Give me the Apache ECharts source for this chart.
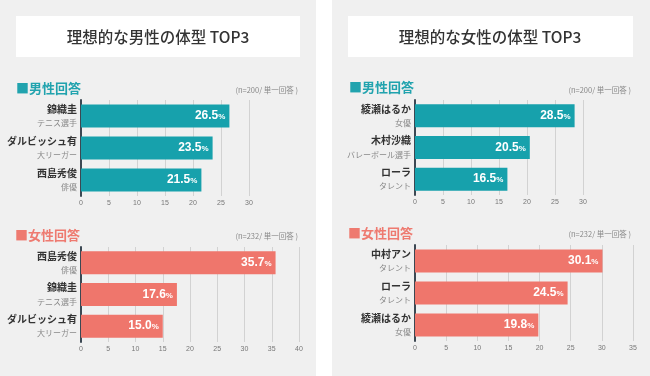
<!DOCTYPE html>
<html><head><meta charset="utf-8">
<script src="https://cdn.jsdelivr.net/npm/echarts@6/dist/echarts.min.js"></script>
<style>html,body{margin:0;padding:0;background:#fff}#c{width:650px;height:376px}</style>
</head><body><div id="c"></div>
<script>
// ---- data ----
var titleLeft = '理想的な男性の体型 TOP3';
var titleRight = '理想的な女性の体型 TOP3';
var headMale = '■男性回答';
var headFemale = '■女性回答';
var noteMale = '(n=200/ 単一回答 )';
var noteFemale = '(n=232/ 単一回答 )';

var lmNames = ['錦織圭', 'ダルビッシュ有', '西島秀俊'];
var lmSubs = ['テニス選手', '大リーガー', '俳優'];
var lmValues = [26.5, 23.5, 21.5];

var lfNames = ['西島秀俊', '錦織圭', 'ダルビッシュ有'];
var lfSubs = ['俳優', 'テニス選手', '大リーガー'];
var lfValues = [35.7, 17.6, 15.0];

var rmNames = ['綾瀬はるか', '木村沙織', 'ローラ'];
var rmSubs = ['女優', 'バレーボール選手', 'タレント'];
var rmValues = [28.5, 20.5, 16.5];

var rfNames = ['中村アン', 'ローラ', '綾瀬はるか'];
var rfSubs = ['タレント', 'タレント', '女優'];
var rfValues = [30.1, 24.5, 19.8];

var axisMax = [30, 40, 30, 35];

// ---- style ----
var TEAL = '#17a1ac', SALMON = '#ef766c';
var JP = '"Noto Sans CJK JP", "Noto Sans", sans-serif';
var NUM = '"Liberation Sans", Arial, sans-serif';

var charts = [
  {names: lmNames, subs: lmSubs, values: lmValues, color: TEAL, grid: {left: 81, width: 168, top: 100, height: 96}},
  {names: lfNames, subs: lfSubs, values: lfValues, color: SALMON, grid: {left: 81, width: 218, top: 247, height: 95}},
  {names: rmNames, subs: rmSubs, values: rmValues, color: TEAL, grid: {left: 415, width: 168, top: 100, height: 95}},
  {names: rfNames, subs: rfSubs, values: rfValues, color: SALMON, grid: {left: 415, width: 218, top: 245, height: 96}}
];

var grids = [], xAxes = [], yAxes = [], series = [];
charts.forEach(function (c, i) {
  grids.push(c.grid);
  xAxes.push({
    type: 'value', gridIndex: i, min: 0, max: axisMax[i], interval: 5,
    axisLine: {show: false}, axisTick: {show: false},
    splitLine: {show: true, lineStyle: {color: '#d2d2d2', width: 1}},
    axisLabel: {fontSize: 7, color: '#777', margin: 4, fontFamily: NUM}
  });
  yAxes.push({
    type: 'category', gridIndex: i, inverse: true,
    data: c.names.map(function (n, k) { return n + '\n' + c.subs[k]; }),
    axisLine: {show: true, lineStyle: {color: '#3c4853', width: 2}},
    axisTick: {show: false},
    axisLabel: {
      margin: 4, align: 'right',
      formatter: function (v) { var p = v.split('\n'); return '{n|' + p[0] + '}\n{s|' + p[1] + '}'; },
      rich: {
        n: {fontSize: 10, fontWeight: 'bold', color: '#333', lineHeight: 14, fontFamily: JP, align: 'right'},
        s: {fontSize: 8, color: '#888', lineHeight: 14, fontFamily: JP, align: 'right'}
      }
    }
  });
  series.push({
    type: 'bar', xAxisIndex: i, yAxisIndex: i, data: c.values, barWidth: 23,
    itemStyle: {color: c.color}, silent: true,
    label: {
      show: true, position: 'insideRight', distance: 4,
      formatter: function (p) { return '{v|' + p.value.toFixed(1) + '}{p|%}'; },
      rich: {
        v: {fontSize: 12, fontWeight: 'bold', color: '#fff', fontFamily: NUM},
        p: {fontSize: 8, fontWeight: 'bold', color: '#fff', fontFamily: NUM, padding: [2, 0, 0, 0]}
      }
    }
  });
});

function txt(t, x, y, font, color, align) {
  return {type: 'text', silent: true, z: 10, style: {text: t, x: x, y: y, font: font, fill: color, align: align || 'left', verticalAlign: 'middle'}};
}

var graphic = [
  {type: 'rect', shape: {x: 0, y: 0, width: 316, height: 376}, style: {fill: '#f0f0f0'}, z: -10, silent: true},
  {type: 'rect', shape: {x: 332, y: 0, width: 318, height: 376}, style: {fill: '#f0f0f0'}, z: -10, silent: true},
  {type: 'rect', shape: {x: 16, y: 16, width: 284, height: 41}, style: {fill: '#ffffff'}, z: -9, silent: true},
  {type: 'rect', shape: {x: 348, y: 16, width: 285, height: 41}, style: {fill: '#ffffff'}, z: -9, silent: true},
  txt(titleLeft, 158, 37, '500 15.5px ' + JP, '#333', 'center'),
  txt(titleRight, 490, 37, '500 15.5px ' + JP, '#333', 'center'),
  txt(headMale, 16, 88, 'bold 13px ' + JP, '#21a3ae'),
  txt(headFemale, 15, 235, 'bold 13px ' + JP, '#ee7a70'),
  txt(headMale, 349, 87, 'bold 13px ' + JP, '#21a3ae'),
  txt(headFemale, 348, 233, 'bold 13px ' + JP, '#ee7a70'),
  txt(noteMale, 298, 90, '7.5px ' + JP, '#888', 'right'),
  txt(noteFemale, 298, 236, '7.5px ' + JP, '#888', 'right'),
  txt(noteMale, 631, 90, '7.5px ' + JP, '#888', 'right'),
  txt(noteFemale, 631, 234, '7.5px ' + JP, '#888', 'right')
];

var chart = echarts.init(document.getElementById('c'), null, {renderer: 'canvas'});
chart.setOption({
  animation: false,
  backgroundColor: '#ffffff',
  grid: grids, xAxis: xAxes, yAxis: yAxes, series: series, graphic: graphic
});
</script></body></html>
